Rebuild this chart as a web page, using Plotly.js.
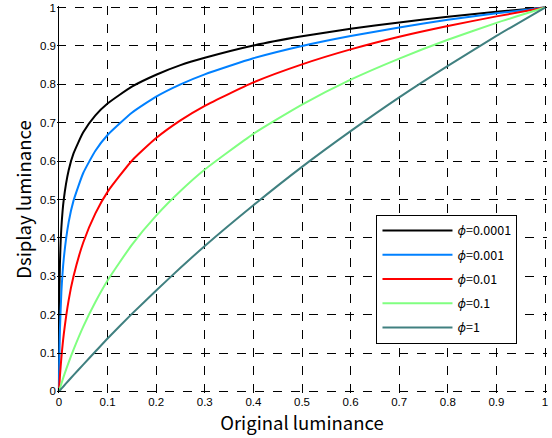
<!DOCTYPE html>
<html><head><meta charset="utf-8">
<script src="https://cdn.plot.ly/plotly-3.0.1.min.js"></script>
<style>html,body{margin:0;padding:0;background:#fff}#chart{width:552px;height:438px}</style>
</head><body><div id="chart"></div>
<script>
const xOrig = [0, 0.0002, 0.0005, 0.001, 0.002, 0.005, 0.01, 0.02, 0.03, 0.05, 0.075, 0.1, 0.15, 0.2, 0.25, 0.3, 0.4, 0.5, 0.6, 0.7, 0.8, 0.9, 1];
const yPhi00001 = [0, 0.119, 0.195, 0.260, 0.331, 0.427, 0.501, 0.576, 0.620, 0.675, 0.719, 0.750, 0.794, 0.825, 0.850, 0.869, 0.901, 0.925, 0.945, 0.961, 0.976, 0.989, 1];
const yPhi0001 = [0, 0.026, 0.059, 0.100, 0.159, 0.259, 0.347, 0.441, 0.497, 0.569, 0.627, 0.668, 0.726, 0.768, 0.800, 0.826, 0.868, 0.900, 0.926, 0.948, 0.968, 0.985, 1];
const yPhi001 = [0, 0.004, 0.011, 0.021, 0.040, 0.088, 0.150, 0.238, 0.300, 0.388, 0.464, 0.520, 0.601, 0.660, 0.706, 0.744, 0.805, 0.852, 0.891, 0.924, 0.952, 0.977, 1];
const yPhi01 = [0, 0.0008, 0.002, 0.004, 0.008, 0.020, 0.040, 0.076, 0.109, 0.169, 0.233, 0.289, 0.382, 0.458, 0.522, 0.578, 0.671, 0.747, 0.812, 0.867, 0.916, 0.960, 1];
const yPhi1 = [0, 0.0003, 0.0007, 0.0014, 0.0029, 0.0072, 0.0143, 0.0286, 0.0426, 0.070, 0.104, 0.138, 0.202, 0.263, 0.322, 0.379, 0.485, 0.585, 0.678, 0.766, 0.848, 0.926, 1];
const seriesNames = ['<i>ϕ</i>=0.0001', '<i>ϕ</i>=0.001', '<i>ϕ</i>=0.01', '<i>ϕ</i>=0.1', '<i>ϕ</i>=1'];
const seriesY = [yPhi00001, yPhi0001, yPhi001, yPhi01, yPhi1];
const colors = ['#000000', '#0080ff', '#ff0000', '#80ff80', '#408080'];
const tickVals = [0, 0.1, 0.2, 0.3, 0.4, 0.5, 0.6, 0.7, 0.8, 0.9, 1];
const tickText = ['0', '0.1', '0.2', '0.3', '0.4', '0.5', '0.6', '0.7', '0.8', '0.9', '1'];

const font = '"Noto Sans CJK JP", "Noto Sans", sans-serif';
const tickFontFamily = '"Liberation Sans", Arial, sans-serif';
const traces = seriesY.map((y, i) => ({
  x: xOrig, y: y, type: 'scatter', mode: 'lines', name: seriesNames[i],
  legendgroup: 'g' + i, cliponaxis: false,
  line: {color: colors[i], width: 2, shape: 'spline', smoothing: 0.5}
}));
const axisCommon = {
  range: [-0.004, 1.004], tickvals: tickVals, ticktext: tickText,
  showgrid: true, gridcolor: '#000', gridwidth: 1, griddash: 'dash',
  ticks: 'inside', ticklen: 5, tickcolor: '#000', ticklabeloverflow: 'allow',
  tickfont: {family: tickFontFamily, size: 11.5, color: '#000'}, fixedrange: true
};
const layout = {
  width: 552, height: 438,
  margin: {l: 57, r: 5, t: 6, b: 45},
  paper_bgcolor: '#fff', plot_bgcolor: '#fff',
  showlegend: true,
  xaxis: Object.assign({}, axisCommon, {
    showline: false, zeroline: true, zerolinecolor: '#000', zerolinewidth: 1,
    title: {text: 'Original luminance', font: {family: font, size: 18.5, color: '#000'}, standoff: 10}
  }),
  yaxis: Object.assign({}, axisCommon, {
    showline: false, zeroline: false,
    title: {text: 'Dsiplay luminance', font: {family: font, size: 18.5, color: '#000'}, standoff: 3}
  }),
  legend: {
    x: 0.652, y: 0.460, xanchor: 'left', yanchor: 'top',
    bgcolor: '#fff', bordercolor: '#000', borderwidth: 1,
    font: {family: font, size: 12.5, color: '#000'},
    itemwidth: 70, traceorder: 'grouped', tracegroupgap: 5
  }
};
Plotly.newPlot('chart', traces, layout, {displayModeBar: false, staticPlot: true});
</script></body></html>
